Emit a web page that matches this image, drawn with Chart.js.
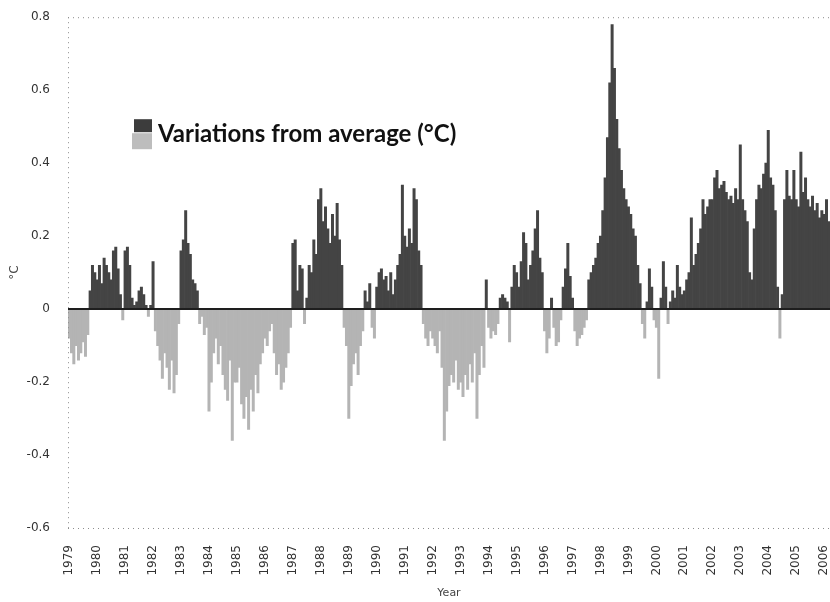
<!DOCTYPE html>
<html>
<head>
<meta charset="utf-8">
<script src="https://cdn.jsdelivr.net/npm/chart.js@4"></script>
<style>
  html, body { margin: 0; padding: 0; background: #fff; }
  #wrap { width: 830px; height: 602px; }
</style>
</head>
<body>
<div id="wrap"><canvas id="myChart" width="830" height="602"></canvas></div>
<script>
//! Les donnees (ecart mensuel a la moyenne, en degres C).

const annees = [1979, 1980, 1981, 1982, 1983, 1984, 1985, 1986, 1987, 1988,
  1989, 1990, 1991, 1992, 1993, 1994, 1995, 1996, 1997, 1998, 1999, 2000,
  2001, 2002, 2003, 2004, 2005, 2006];

const y1979 = [-0.08, -0.12, -0.15, -0.10, -0.14, -0.12, -0.09, -0.13, -0.07, 0.05, 0.12, 0.10];
const y1980 = [0.08, 0.12, 0.07, 0.14, 0.12, 0.10, 0.08, 0.16, 0.17, 0.11, 0.04, -0.03];
const y1981 = [0.16, 0.17, 0.12, 0.03, 0.01, 0.02, 0.05, 0.06, 0.04, 0.01, -0.02, 0.01];
const y1982 = [0.13, -0.06, -0.10, -0.14, -0.19, -0.12, -0.16, -0.22, -0.14, -0.23, -0.18, -0.04];
const y1983 = [0.16, 0.19, 0.27, 0.18, 0.15, 0.08, 0.07, 0.05, -0.04, -0.02, -0.07, -0.05];
const y1984 = [-0.28, -0.20, -0.12, -0.08, -0.15, -0.10, -0.18, -0.22, -0.25, -0.14, -0.36, -0.20];
const y1985 = [-0.20, -0.16, -0.26, -0.30, -0.24, -0.33, -0.22, -0.28, -0.18, -0.23, -0.15, -0.12];
const y1986 = [-0.08, -0.10, -0.06, -0.04, -0.12, -0.18, -0.15, -0.22, -0.20, -0.16, -0.12, -0.05];
const y1987 = [0.18, 0.19, 0.05, 0.12, 0.11, -0.04, 0.03, 0.12, 0.10, 0.19, 0.15, 0.30];
const y1988 = [0.33, 0.24, 0.28, 0.22, 0.18, 0.26, 0.20, 0.29, 0.19, 0.12, -0.05, -0.10];
const y1989 = [-0.30, -0.21, -0.15, -0.12, -0.18, -0.10, -0.06, 0.05, 0.02, 0.07, -0.05, -0.08];
const y1990 = [0.06, 0.10, 0.11, 0.08, 0.09, 0.05, 0.10, 0.04, 0.08, 0.12, 0.15, 0.34];
const y1991 = [0.20, 0.17, 0.22, 0.18, 0.33, 0.30, 0.16, 0.12, -0.04, -0.08, -0.10, -0.06];
const y1992 = [-0.08, -0.10, -0.12, -0.06, -0.16, -0.36, -0.28, -0.21, -0.18, -0.20, -0.14, -0.22];
const y1993 = [-0.20, -0.24, -0.18, -0.22, -0.15, -0.20, -0.12, -0.30, -0.18, -0.10, -0.16, 0.08];
const y1994 = [-0.05, -0.08, -0.06, -0.07, -0.04, 0.03, 0.04, 0.03, 0.02, -0.09, 0.06, 0.12];
const y1995 = [0.10, 0.06, 0.13, 0.21, 0.18, 0.08, 0.12, 0.16, 0.22, 0.27, 0.14, 0.10];
const y1996 = [-0.06, -0.12, -0.08, 0.03, -0.05, -0.10, -0.09, -0.03, 0.06, 0.11, 0.18, 0.09];
const y1997 = [0.03, -0.06, -0.10, -0.08, -0.07, -0.05, -0.03, 0.08, 0.10, 0.12, 0.14, 0.18];
const y1998 = [0.20, 0.27, 0.36, 0.47, 0.62, 0.78, 0.66, 0.52, 0.44, 0.38, 0.33, 0.30];
const y1999 = [0.28, 0.26, 0.22, 0.20, 0.12, 0.07, -0.04, -0.08, 0.02, 0.11, 0.06, -0.03];
const y2000 = [-0.05, -0.19, 0.03, 0.13, 0.06, -0.04, 0.02, 0.05, 0.03, 0.12, 0.06, 0.04];
const y2001 = [0.05, 0.08, 0.10, 0.25, 0.12, 0.15, 0.18, 0.22, 0.30, 0.26, 0.28, 0.30];
const y2002 = [0.30, 0.36, 0.38, 0.33, 0.34, 0.35, 0.32, 0.30, 0.31, 0.29, 0.33, 0.30];
const y2003 = [0.45, 0.30, 0.27, 0.24, 0.10, 0.08, 0.22, 0.30, 0.34, 0.33, 0.37, 0.40];
const y2004 = [0.49, 0.36, 0.34, 0.27, 0.06, -0.08, 0.04, 0.30, 0.38, 0.31, 0.30, 0.38];
const y2005 = [0.30, 0.28, 0.43, 0.32, 0.36, 0.30, 0.28, 0.31, 0.27, 0.29, 0.25, 0.27];
const y2006 = [0.26, 0.30, 0.24];

const listAnnees = [y1979, y1980, y1981, y1982, y1983, y1984, y1985, y1986,
  y1987, y1988, y1989, y1990, y1991, y1992, y1993, y1994, y1995, y1996,
  y1997, y1998, y1999, y2000, y2001, y2002, y2003, y2004, y2005, y2006];

//! --------------------------------------------------------------

//! Construction des labels et des valeurs mensuelles.

let lab = [];
let valeurs = [];

listAnnees.forEach((mois, i) => {
  mois.forEach((v, m) => {
    lab.push(annees[i] + '-' + (m + 1));
    valeurs.push(v);
  });
});

const couleurPositive = '#444444';
const couleurNegative = '#b4b4b4';
const police = "'DejaVu Sans', sans-serif";

//! --------------------------------------------------------------

//! Les traits : axe pointille, ligne du zero.

const bordures = {
  id: 'bordures',
  afterDatasetsDraw(chart) {
    const { ctx, chartArea, scales } = chart;
    const y0 = scales.y.getPixelForValue(0);
    const yHaut = scales.y.getPixelForValue(0.8);
    const yBas = scales.y.getPixelForValue(-0.6);

    ctx.save();
    ctx.strokeStyle = '#8c8c8c';
    ctx.lineWidth = 1;
    ctx.setLineDash([1, 4]);
    ctx.beginPath();
    ctx.moveTo(chartArea.left + 0.5, yHaut);
    ctx.lineTo(chartArea.left + 0.5, yBas);
    ctx.moveTo(chartArea.left, yHaut + 0.5);
    ctx.lineTo(chartArea.right, yHaut + 0.5);
    ctx.moveTo(chartArea.left, yBas + 0.5);
    ctx.lineTo(chartArea.right, yBas + 0.5);
    ctx.stroke();

    ctx.setLineDash([]);
    ctx.strokeStyle = '#1e1e1e';
    ctx.lineWidth = 2;
    ctx.beginPath();
    ctx.moveTo(chartArea.left, y0);
    ctx.lineTo(chartArea.right, y0);
    ctx.stroke();
    ctx.restore();
  },
};

//! La legende, dans la zone du graphique.

const legende = {
  id: 'legende',
  afterDraw(chart) {
    const { ctx, chartArea } = chart;
    const x = chartArea.left + 64;
    const y = chartArea.top + 102;

    ctx.save();
    ctx.fillStyle = '#3c3c3c';
    ctx.fillRect(x + 2, y, 18, 13);
    ctx.fillStyle = '#bdbdbd';
    ctx.fillRect(x, y + 14, 20, 16);

    ctx.fillStyle = '#111';
    ctx.font = "bold 24px Lato, 'Open Sans', sans-serif";
    ctx.textBaseline = 'alphabetic';
    ctx.fillText('Variations from average (°C)', x + 26, y + 23);
    ctx.restore();
  },
};

//! --------------------------------------------------------------

//! Le graphique.

const data = {
  labels: lab,
  datasets: [
    {
      label: 'Variations from average (°C)',
      data: valeurs,
      backgroundColor: valeurs.map((v) => (v >= 0 ? couleurPositive : couleurNegative)),
      borderWidth: 0,
      barPercentage: 1,
      categoryPercentage: 1,
    },
  ],
};

const options = {
  responsive: false,
  animation: false,
  devicePixelRatio: 1,
  layout: { padding: { top: 15, right: 0, bottom: 0, left: 0 } },
  plugins: {
    legend: { display: false },
    tooltip: { enabled: false },
  },
  scales: {
    x: {
      grid: { display: false },
      border: { display: false },
      ticks: {
        autoSkip: false,
        minRotation: 90,
        maxRotation: 90,
        padding: 9,
        color: '#333',
        font: { family: police, size: 12 },
        callback: function (val, index) {
          return index % 12 === 0 ? String(annees[index / 12]) : '';
        },
      },
      title: {
        display: true,
        text: 'Year',
        color: '#444',
        font: { family: police, size: 11 },
        padding: { top: 0, bottom: 2 },
      },
      afterFit: (scale) => {
        scale.height = 74;
        scale.paddingLeft = 0;
        scale.paddingRight = 0;
      },
    },
    y: {
      min: -0.6,
      max: 0.8,
      grid: { display: false },
      border: { display: false },
      ticks: {
        stepSize: 0.2,
        padding: 10,
        color: '#333',
        font: { family: police, size: 12 },
        callback: function (v) {
          return Math.abs(v) < 1e-9 ? '0' : v.toFixed(1);
        },
      },
      title: {
        display: true,
        text: '°C',
        color: '#444',
        font: { family: police, size: 12 },
        padding: { top: 8, bottom: 0 },
      },
      afterFit: (scale) => {
        scale.width = 68;
      },
    },
  },
};

const config = {
  type: 'bar',
  data,
  options,
  plugins: [bordures, legende],
};

const myChart = new Chart(document.getElementById('myChart'), config);

//! --------------------------------------------------------------
</script>
</body>
</html>
